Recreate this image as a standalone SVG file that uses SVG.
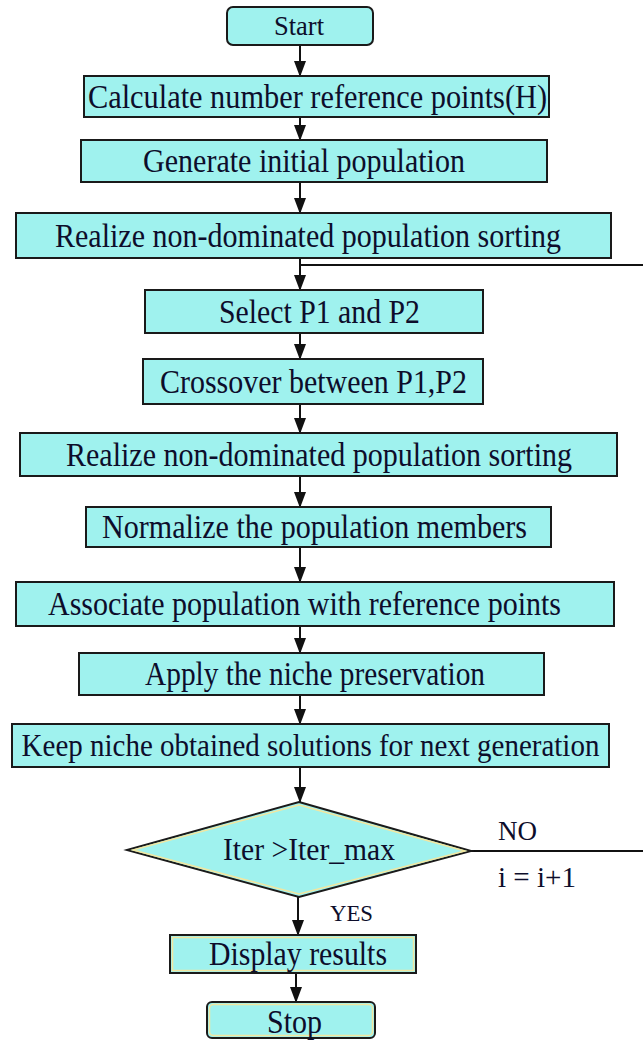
<svg xmlns="http://www.w3.org/2000/svg" width="643" height="1040" viewBox="0 0 643 1040">
<defs>
<style>
.box{fill:#9ff2ee;stroke:#1a1a1a;stroke-width:2}
.t{font-family:"Liberation Serif","Times New Roman",serif;font-size:33px;fill:#0d0d2b;text-anchor:middle}
.lbl{font-family:"Liberation Serif","Times New Roman",serif;fill:#0d0d2b}
.ln{stroke:#111;stroke-width:2;fill:none}
.inner{fill:none;stroke:#f2e6a0;stroke-width:1.5}
</style>
<marker id="ad" markerUnits="userSpaceOnUse" markerWidth="16" markerHeight="12" refX="15" refY="6" orient="auto" viewBox="0 0 16 12">
<path d="M0,0 L16,6 L0,12 Z" fill="#111"/>
</marker>
</defs>
<rect width="643" height="1040" fill="#ffffff"/>

<g id="connectors">
<line class="ln" x1="300" y1="45" x2="300" y2="76" marker-end="url(#ad)"/>
<line class="ln" x1="300" y1="117" x2="300" y2="140" marker-end="url(#ad)"/>
<line class="ln" x1="300" y1="182" x2="300" y2="213" marker-end="url(#ad)"/>
<line class="ln" x1="300" y1="258" x2="300" y2="290" marker-end="url(#ad)"/>
<line class="ln" x1="300" y1="265" x2="643" y2="265"/>
<line class="ln" x1="300" y1="333" x2="300" y2="359" marker-end="url(#ad)"/>
<line class="ln" x1="300" y1="404" x2="300" y2="433" marker-end="url(#ad)"/>
<line class="ln" x1="300" y1="476" x2="300" y2="507" marker-end="url(#ad)"/>
<line class="ln" x1="300" y1="547" x2="300" y2="582" marker-end="url(#ad)"/>
<line class="ln" x1="300" y1="626" x2="300" y2="653" marker-end="url(#ad)"/>
<line class="ln" x1="300" y1="695" x2="300" y2="724" marker-end="url(#ad)"/>
<line class="ln" x1="300" y1="767" x2="300" y2="802" marker-end="url(#ad)"/>
<line class="ln" x1="471" y1="851" x2="643" y2="851"/>
<line class="ln" x1="298" y1="897" x2="298" y2="935" marker-end="url(#ad)"/>
<line class="ln" x1="296" y1="973" x2="296" y2="1002" marker-end="url(#ad)"/>
<text class="lbl" x="498" y="840" font-size="28" textLength="39" lengthAdjust="spacingAndGlyphs">NO</text>
<text class="lbl" x="498" y="887" font-size="30" textLength="78" lengthAdjust="spacingAndGlyphs">i = i+1</text>
<text class="lbl" x="330" y="921" font-size="24" textLength="43" lengthAdjust="spacingAndGlyphs">YES</text>
</g>

<g id="start">
<rect class="box" x="227" y="7" width="146" height="38" rx="6"/>
<text class="t" x="299" y="35" style="font-size:28px" textLength="50" lengthAdjust="spacingAndGlyphs">Start</text>
</g>
<g id="calc">
<rect class="box" x="84" y="76" width="465" height="41"/>
<text class="t" x="317.5" y="107.5" textLength="459" lengthAdjust="spacingAndGlyphs">Calculate number reference points(H)</text>
</g>
<g id="generate">
<rect class="box" x="81" y="140" width="466" height="42"/>
<text class="t" x="304" y="172" textLength="322" lengthAdjust="spacingAndGlyphs">Generate initial population</text>
</g>
<g id="sort1">
<rect class="box" x="16" y="213" width="595" height="45"/>
<text class="t" x="308" y="246.5" textLength="506" lengthAdjust="spacingAndGlyphs">Realize non-dominated population sorting</text>
</g>
<g id="select">
<rect class="box" x="145" y="290" width="338" height="43"/>
<text class="t" x="319.5" y="322.5" textLength="201" lengthAdjust="spacingAndGlyphs">Select P1 and P2</text>
</g>
<g id="crossover">
<rect class="box" x="143" y="359" width="340" height="45"/>
<text class="t" x="313.5" y="392.5" textLength="307" lengthAdjust="spacingAndGlyphs">Crossover between P1,P2</text>
</g>
<g id="sort2">
<rect class="box" x="20" y="433" width="597" height="43"/>
<text class="t" x="319" y="465.5" textLength="506" lengthAdjust="spacingAndGlyphs">Realize non-dominated population sorting</text>
</g>
<g id="normalize">
<rect class="box" x="86" y="507" width="465" height="40"/>
<text class="t" x="314.5" y="538" textLength="425" lengthAdjust="spacingAndGlyphs">Normalize the population members</text>
</g>
<g id="associate">
<rect class="box" x="16" y="582" width="598" height="44"/>
<text class="t" x="304.5" y="615" textLength="513" lengthAdjust="spacingAndGlyphs">Associate population with reference points</text>
</g>
<g id="niche">
<rect class="box" x="79" y="653" width="465" height="42"/>
<text class="t" x="315" y="685" textLength="340" lengthAdjust="spacingAndGlyphs">Apply the niche preservation</text>
</g>
<g id="keep">
<rect class="box" x="12" y="724" width="597" height="43"/>
<text class="t" transform="translate(310.5,756) scale(1,1.12)" x="0" y="0" style="font-size:29px">Keep niche obtained solutions for next generation</text>
</g>
<g id="decision">
<polygon class="box" points="299,802 471,851 299,897 127,850"/>
<polygon class="inner" points="299,805 465,851 299,894 133,850"/>
<text class="t" x="309" y="860" style="font-size:31px" textLength="172" lengthAdjust="spacingAndGlyphs">Iter &gt;Iter_max</text>
</g>
<g id="display">
<rect class="box" x="170" y="935" width="246" height="38"/>
<rect class="inner" x="172.5" y="937.5" width="241" height="33"/>
<text class="t" x="298" y="965" textLength="178" lengthAdjust="spacingAndGlyphs">Display results</text>
</g>
<g id="stop">
<rect class="box" x="207" y="1002" width="168" height="36" rx="5"/>
<rect class="inner" x="209.5" y="1004.5" width="163" height="31" rx="4"/>
<text class="t" x="294.5" y="1033" textLength="55" lengthAdjust="spacingAndGlyphs">Stop</text>
</g>
</svg>
